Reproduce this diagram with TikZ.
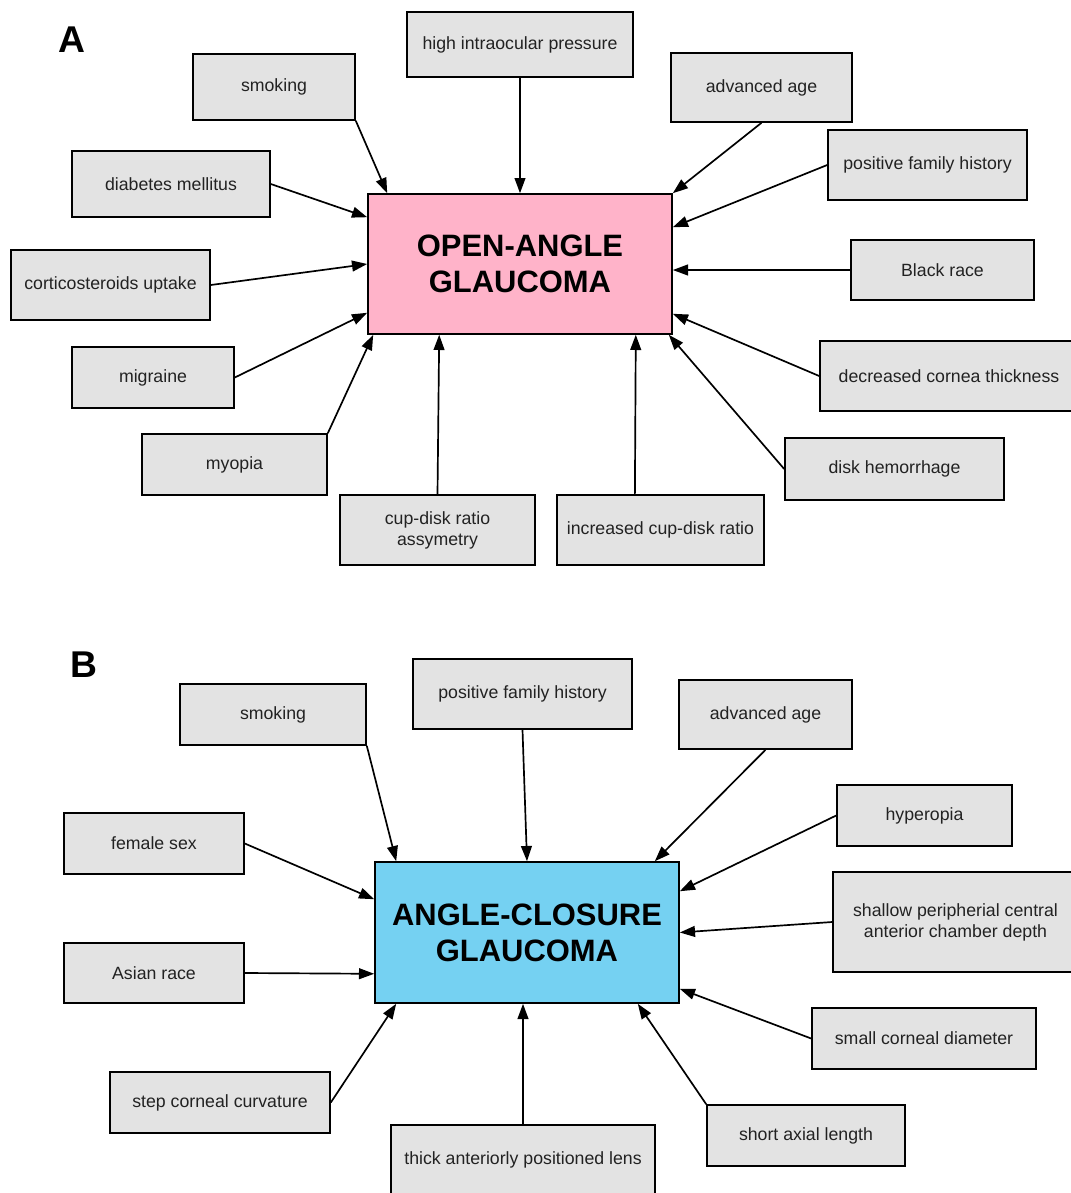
\documentclass[tikz,border=0pt]{standalone}
\usepackage{fontspec}
\setmainfont{Liberation Sans}
\usepackage{xcolor}
\usepackage{tikz}
\usetikzlibrary{arrows.meta, positioning}
\definecolor{boxgray}{HTML}{E3E3E3}
\definecolor{oapink}{HTML}{FFB3C9}
\definecolor{acblue}{HTML}{75D1F2}
\definecolor{txtgray}{HTML}{222222}
\tikzstyle{factor} = [rectangle, draw=black, line width=1.1pt, fill=boxgray, text=txtgray, align=center, font=\fontsize{12.6}{15}\selectfont, inner sep=2pt]
\tikzstyle{disease} = [rectangle, draw=black, line width=1.1pt, align=center, minimum width=7.6cm, minimum height=3.5cm, font=\fontsize{22}{25.6}\selectfont\bfseries]
\tikzstyle{panel} = [font=\fontsize{26.5}{30}\selectfont\bfseries]
\tikzstyle{arrow} = [line width=1.2pt, -{Triangle[length=0.38cm, width=0.27cm]}]

\begin{document}
\begin{tikzpicture}[x=0.025cm, y=-0.025cm]
        \useasboundingbox (0,0) rectangle (1071,1193);

        % Panel A
        \node (labA) [panel] at (72,40) {A};
        \node (oag) [disease, fill=oapink] at (520,264) {OPEN-ANGLE\\GLAUCOMA};

        \node (smokeA) [factor, minimum width=4.05cm, minimum height=1.65cm] at (274,87) {smoking};
        \node (iopA) [factor, minimum width=5.65cm, minimum height=1.625cm] at (520,44.5) {high intraocular pressure};
        \node (ageA) [factor, minimum width=4.525cm, minimum height=1.725cm] at (761.5,87.5) {advanced age};
        \node (famA) [factor, minimum width=4.975cm, minimum height=1.75cm] at (927.5,165) {positive family history};
        \node (diabA) [factor, minimum width=4.95cm, minimum height=1.65cm] at (171,184) {diabetes mellitus};
        \node (cortA) [factor, minimum width=4.975cm, minimum height=1.75cm] at (110.5,285) {corticosteroids uptake};
        \node (blackA) [factor, minimum width=4.575cm, minimum height=1.5cm] at (942.5,270) {Black race};
        \node (migrA) [factor, minimum width=4.05cm, minimum height=1.525cm] at (153,377.5) {migraine};
        \node (corneaA) [factor, minimum width=6.45cm, minimum height=1.75cm] at (949,376) {decreased cornea thickness};
        \node (myopA) [factor, minimum width=4.625cm, minimum height=1.525cm] at (234.5,464.5) {myopia};
        \node (diskA) [factor, minimum width=5.475cm, minimum height=1.55cm] at (894.5,469) {disk hemorrhage};
        \node (cupA) [factor, minimum width=4.875cm, minimum height=1.75cm] at (437.5,530) {cup-disk ratio\\assymetry};
        \node (incA) [factor, minimum width=5.175cm, minimum height=1.75cm] at (660.5,530) {increased cup-disk ratio};

        % Arrows A
        \draw [arrow] (smokeA.south east) -- ([xshift=0.5cm]oag.north west);
        \draw [arrow] (iopA.south) -- (oag.north);
        \draw [arrow] (ageA.south) -- (oag.north east);
        \draw [arrow] (famA.west) -- ([yshift=-0.85cm]oag.north east);
        \draw [arrow] (diabA.east) -- ([yshift=-0.6cm]oag.north west);
        \draw [arrow] (cortA.east) -- (oag.west);
        \draw [arrow] (blackA.west) -- ([yshift=-0.15cm]oag.east);
        \draw [arrow] (migrA.east) -- ([yshift=0.55cm]oag.south west);
        \draw [arrow] (corneaA.west) -- ([yshift=0.525cm]oag.south east);
        \draw [arrow] (myopA.north east) -- ([xshift=0.15cm]oag.south west);
        \draw [arrow] (diskA.west) -- ([xshift=-0.1cm]oag.south east);
        \draw [arrow] (cupA.north) -- ([xshift=1.8cm]oag.south west);
        \draw [arrow] ([xshift=-0.64cm]incA.north) -- ([xshift=-0.925cm]oag.south east);

        % Panel B
        \node (labB) [panel] at (84,665) {B};
        \node (acg) [disease, fill=acblue, minimum height=3.525cm] at (527,932.5) {ANGLE-CLOSURE\\GLAUCOMA};

        \node (smokeB) [factor, minimum width=4.65cm, minimum height=1.525cm] at (273,714.5) {smoking};
        \node (famB) [factor, minimum width=5.475cm, minimum height=1.75cm] at (522.5,694) {positive family history};
        \node (ageB) [factor, minimum width=4.325cm, minimum height=1.725cm] at (765.5,714.5) {advanced age};
        \node (hypB) [factor, minimum width=4.375cm, minimum height=1.525cm] at (924.5,815.5) {hyperopia};
        \node (femB) [factor, minimum width=4.5cm, minimum height=1.525cm] at (154,843.5) {female sex};
        \node (shalB) [factor, minimum width=6.125cm, minimum height=2.5cm] at (955.5,922) {shallow peripherial central\\anterior chamber depth};
        \node (asianB) [factor, minimum width=4.5cm, minimum height=1.5cm] at (154,973) {Asian race};
        \node (smallB) [factor, minimum width=5.6cm, minimum height=1.525cm] at (924,1038.5) {small corneal diameter};
        \node (stepB) [factor, minimum width=5.5cm, minimum height=1.525cm] at (220,1102.5) {step corneal curvature};
        \node (shortB) [factor, minimum width=4.95cm, minimum height=1.525cm] at (806,1135.5) {short axial length};
        \node (lensB) [factor, minimum width=6.6cm, minimum height=1.75cm] at (523,1160) {thick anteriorly positioned lens};

        % Arrows B
        \draw [arrow] (smokeB.south east) -- ([xshift=0.55cm]acg.north west);
        \draw [arrow] (famB.south) -- (acg.north);
        \draw [arrow] (ageB.south) -- ([xshift=-0.625cm]acg.north east);
        \draw [arrow] (hypB.west) -- ([yshift=-0.75cm]acg.north east);
        \draw [arrow] (femB.east) -- ([yshift=-0.95cm]acg.north west);
        \draw [arrow] (shalB.west) -- (acg.east);
        \draw [arrow] (asianB.east) -- ([yshift=0.75cm]acg.south west);
        \draw [arrow] (smallB.west) -- ([yshift=0.375cm]acg.south east);
        \draw [arrow] (stepB.east) -- ([xshift=0.55cm]acg.south west);
        \draw [arrow] (shortB.north west) -- ([xshift=-1.05cm]acg.south east);
        \draw [arrow] (lensB.north) -- (lensB.north |- acg.south);
    \end{tikzpicture}
\end{document}
